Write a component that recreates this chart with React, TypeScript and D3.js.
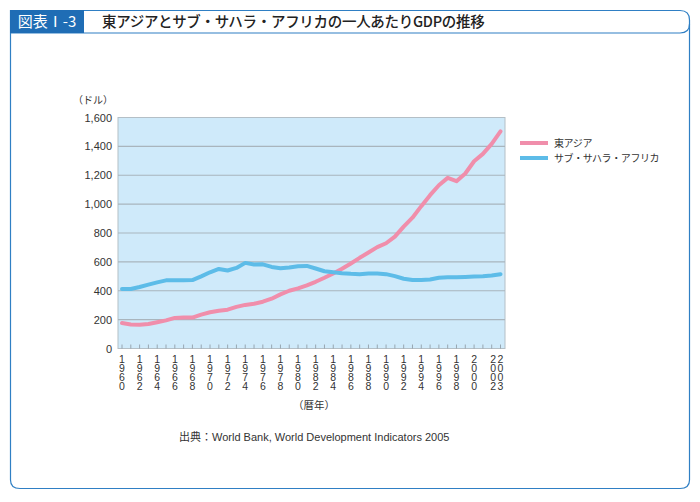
import React from "react";
import * as d3 from "d3";

const years: number[] = d3.range(1960, 2004);
const eastAsia: number[] = [
  176, 166, 164, 170, 182, 195, 212, 214, 214, 235,
  251, 262, 269, 288, 302, 310, 324, 345, 375, 400,
  416, 437, 462, 490, 520, 552, 589, 628, 665, 702,
  729, 775, 844, 906, 986, 1062, 1131, 1182, 1159, 1212,
  1297, 1348, 1417, 1504,
];
const subSahara: number[] = [
  412, 412, 426, 442, 458, 472, 472, 472, 474, 500,
  528, 551, 540, 558, 593, 582, 583, 565, 556, 561,
  570, 572, 554, 535, 528, 521, 517, 515, 519, 520,
  515, 501, 483, 474, 474, 478, 490, 494, 494, 496,
  499, 501, 506, 515,
];
const yTicks: number[] = [0, 200, 400, 600, 800, 1000, 1200, 1400, 1600];
const xLabelYears: number[] = [
  1960, 1962, 1964, 1966, 1968, 1970, 1972, 1974, 1976, 1978, 1980,
  1982, 1984, 1986, 1988, 1990, 1992, 1994, 1996, 1998, 2000, 2002, 2003,
];
const seriesNames: string[] = ["東アジア", "サブ・サハラ・アフリカ"];
const seriesColors: string[] = ["#f08eab", "#5dbce8"];

const FONT = "'Liberation Sans', Arial, sans-serif";
const JFONT = "'Noto Sans CJK JP', 'Noto Sans', sans-serif";

export default function App() {
  const plotL = 118, plotR = 505, plotT = 117.5, plotB = 348.5;
  const x = d3.scaleLinear().domain([1960, 2003]).range([122, 500.5]);
  const y = d3.scaleLinear().domain([0, 1600]).range([plotB, plotT]);
  const line = d3
    .line<number>()
    .x((_, i) => x(years[i]))
    .y((d) => y(d))
    .curve(d3.curveLinear);
  const series = [eastAsia, subSahara];

  return (
    <svg
      width={700}
      height={502}
      style={{ position: "absolute", left: 0, top: 0, background: "#fff" }}
    >
      {/* frame */}
      <path
        d="M10.5,10.5 H680 Q689.5,10.5 689.5,20 V480 Q689.5,488.5 680,488.5 H20 Q10.5,488.5 10.5,480 Z"
        fill="none"
        stroke="#2f7fc4"
        strokeWidth={1.2}
      />
      <path
        d="M10.5,33 H680 Q689.5,33 689.5,24"
        fill="none"
        stroke="#2f7fc4"
        strokeWidth={1.2}
      />
      <rect x={10} y={10} width={74} height={23} fill="#1f6db5" />
      <text
        x={47}
        y={27}
        textAnchor="middle"
        fill="#fff"
        fontSize={15}
        fontFamily={JFONT}
      >
        図表Ⅰ-3
      </text>
      <text
        x={102}
        y={27}
        fill="#222"
        fontSize={14.5}
        fontWeight={500}
        fontFamily={JFONT}
        letterSpacing={-0.3}
      >
        東アジアとサブ・サハラ・アフリカの一人あたりGDPの推移
      </text>

      {/* plot background */}
      <rect
        x={plotL}
        y={plotT}
        width={plotR - plotL}
        height={plotB - plotT}
        fill="#cfeafa"
        stroke="#b4bfc6"
        strokeWidth={1}
      />
      {yTicks.map((t) => (
        <g key={t}>
          {t > 0 && t < 1600 && (
            <line
              x1={plotL}
              x2={plotR}
              y1={y(t)}
              y2={y(t)}
              stroke="#a9b5bd"
              strokeWidth={1.2}
            />
          )}
          <text
            x={112}
            y={y(t) + 4}
            textAnchor="end"
            fontSize={11}
            fontFamily={FONT}
            fill="#333"
          >
            {d3.format(",")(t)}
          </text>
        </g>
      ))}
      {/* year ticks */}
      {years.map((yr) => (
        <line
          key={yr}
          x1={x(yr)}
          x2={x(yr)}
          y1={plotB}
          y2={plotB - 4}
          stroke="#8a969e"
          strokeWidth={0.8}
        />
      ))}
      {/* x labels (stacked digits) */}
      {xLabelYears.map((yr) => {
        const cx = yr === 2002 ? x(yr) + 1.5 : x(yr);
        return (
          <text
            key={yr}
            x={cx}
            textAnchor="middle"
            fontSize={10.5}
            fontFamily={FONT}
            fill="#333"
          >
            {String(yr)
              .split("")
              .map((ch, i) => (
                <tspan key={i} x={cx} y={362.5 + i * 9}>
                  {ch}
                </tspan>
              ))}
          </text>
        );
      })}
      <text x={73} y={104} fontSize={10} fontFamily={JFONT} fill="#333">
        （ドル）
      </text>
      <text x={293} y={409} fontSize={10.5} fontFamily={JFONT} fill="#333">
        （暦年）
      </text>

      {/* lines */}
      {series.map((s, i) => (
        <path
          key={i}
          d={line(s) || ""}
          fill="none"
          stroke={seriesColors[i]}
          strokeWidth={4}
          strokeLinejoin="round"
          strokeLinecap="round"
        />
      ))}

      {/* legend */}
      {seriesNames.map((n, i) => (
        <g key={n}>
          <line
            x1={520}
            x2={548}
            y1={143 + i * 15}
            y2={143 + i * 15}
            stroke={seriesColors[i]}
            strokeWidth={4}
          />
          <text
            x={554}
            y={147 + i * 15}
            fontSize={10}
            fontFamily={JFONT}
            fill="#333"
            letterSpacing={-0.4}
          >
            {n}
          </text>
        </g>
      ))}

      <text x={179} y={441} fontSize={11} fill="#333">
        <tspan fontFamily={JFONT}>出典：</tspan>
        <tspan fontFamily={FONT}>World Bank, World Development Indicators 2005</tspan>
      </text>
    </svg>
  );
}
